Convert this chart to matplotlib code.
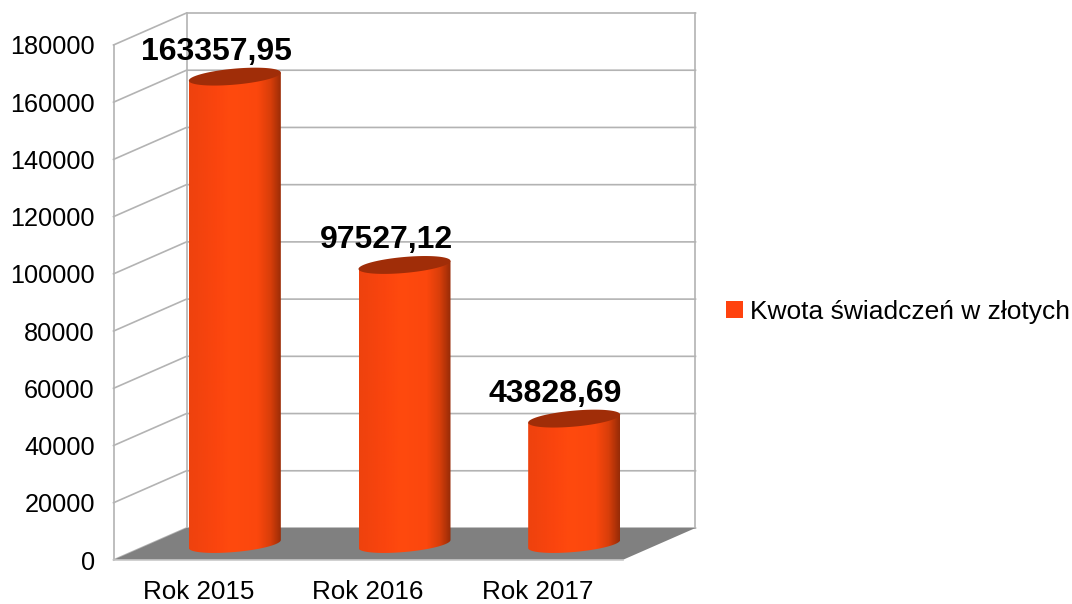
import numpy as np
import matplotlib
matplotlib.use('Agg')
import matplotlib.pyplot as plt
from matplotlib.colors import LinearSegmentedColormap
from matplotlib.patches import Polygon, Patch

categories = ['Rok 2015', 'Rok 2016', 'Rok 2017']
values = [163357.95, 97527.12, 43828.69]
value_labels = ['163357,95', '97527,12', '43828,69']
y_ticks = [0, 20000, 40000, 60000, 80000, 100000, 120000, 140000, 160000, 180000]
series_name = 'Kwota świadczeń w złotych'

plt.rcParams['font.family'] = ['Liberation Sans', 'DejaVu Sans']
W, H = 1072, 604
fig = plt.figure(figsize=(W / 100, H / 100), dpi=100, facecolor='white')
L, R, T, B = 113.5, 622.5, 45.0, 560.0
ax = fig.add_axes([L / W, 1 - B / H, (R - L) / W, (B - T) / H])
YMAX = y_ticks[-1]
px_x = 3 / (R - L)
px_y = YMAX / (B - T)
DX, DY = 73 * px_x, 32 * px_y   # depth of the oblique box
GRID = '#b3b3b3'

# floor
ax.add_patch(Polygon([(0, 0), (3, 0), (3 + DX, DY), (DX, DY)], fc='#808080', ec='none', zorder=1, clip_on=False))
# walls and grid
for v in y_ticks:
    ax.plot([0, DX, 3 + DX], [v, v + DY, v + DY], color=GRID, lw=1.2, zorder=0.5, clip_on=False)
ax.plot([0, 0], [0, YMAX], color=GRID, lw=1.2, zorder=0.5, clip_on=False)
ax.plot([DX, DX], [DY, YMAX + DY], color=GRID, lw=1.2, zorder=0.5, clip_on=False)
ax.plot([3 + DX, 3 + DX], [DY, YMAX + DY], color=GRID, lw=1.2, zorder=0.5, clip_on=False)
ax.plot([0, 3], [0, 0], color='#c8c8c8', lw=1.2, zorder=1.2, clip_on=False)

# cylinders
cmap = LinearSegmentedColormap.from_list('cyl', [
    (0.00, '#ee420e'), (0.30, '#fb450e'), (0.45, '#ff4a0e'), (0.74, '#fb470d'),
    (0.88, '#d83e0a'), (1.00, '#962b07')])
grad = np.linspace(0, 1, 256).reshape(1, -1)
RX, RY, SHEAR = 46 * px_x, 8 * px_y, 4 * px_y
t = np.linspace(0, 2 * np.pi, 121)
for i, val in enumerate(values):
    cx = i + 0.5 + DX / 2
    base, top = DY / 2, val + DY / 2
    ex, ey = RX * np.cos(t), RY * np.sin(t) + SHEAR * np.cos(t)
    lower = t >= np.pi
    body_x = np.r_[cx + ex[lower], cx + RX, cx - RX]
    body_y = np.r_[base + ey[lower], top + SHEAR, top - SHEAR]
    clip = Polygon(np.c_[body_x, body_y], transform=ax.transData, fc='none', ec='none')
    ax.add_patch(clip)
    im = ax.imshow(grad, cmap=cmap, aspect='auto', zorder=2, vmin=0, vmax=1,
                   extent=[cx - RX, cx + RX, base - 2 * RY, top + 2 * RY], interpolation='bilinear')
    im.set_clip_path(clip)
    ax.add_patch(Polygon(np.c_[cx + ex, top + ey], fc='#a02d08', ec='none', zorder=3, clip_on=False))
    ax.text(i + 0.5 + 18 * px_x, top + 25 * px_y, value_labels[i], ha='center', va='center',
            fontsize=23, fontweight='bold', color='black', zorder=5, clip_on=False)

ax.set_xlim(0, 3)
ax.set_ylim(0, YMAX)
ax.set_xticks([i + 0.5 for i in range(len(categories))], categories)
ax.set_yticks(y_ticks)
ax.tick_params(axis='x', length=0, pad=14.5, labelsize=18.7)
ax.tick_params(axis='y', length=0, pad=13.5, labelsize=18.2)
for s in ax.spines.values():
    s.set_visible(False)
ax.patch.set_alpha(0)

leg = fig.legend(handles=[Patch(fc='#ff420e', ec='none', label=series_name)],
                 loc='center left', bbox_to_anchor=(726 / W, 1 - 312 / H), frameon=False,
                 fontsize=19, borderpad=0, borderaxespad=0, handlelength=0.63, handleheight=0.63,
                 handletextpad=0.27)
fig.savefig('out.png', dpi=100, facecolor='white')
